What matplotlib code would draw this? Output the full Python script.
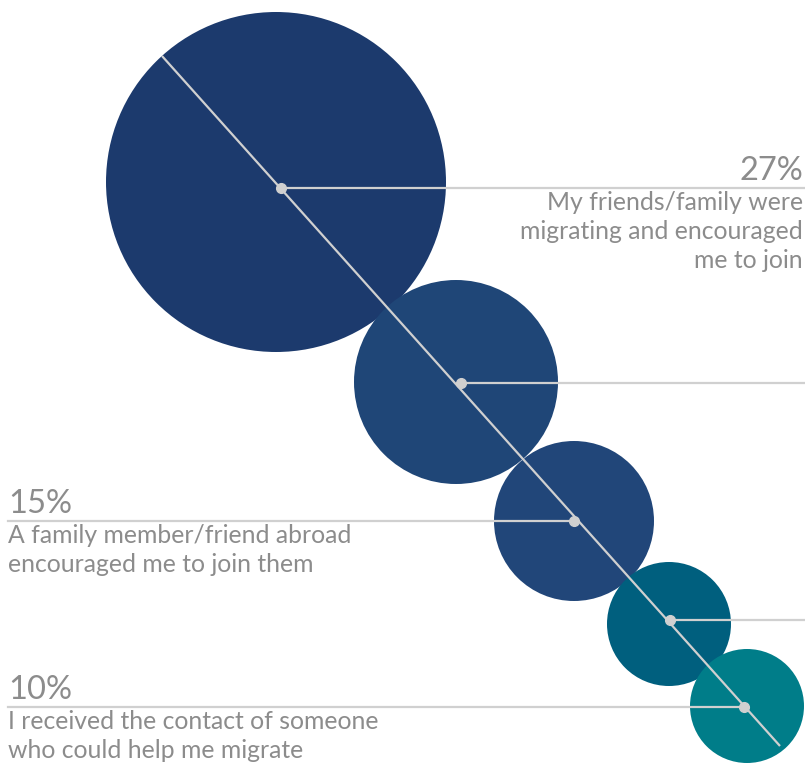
import matplotlib
matplotlib.use('Agg')
import matplotlib.pyplot as plt
from matplotlib.patches import Circle

# --- DATOS ---
porcentajes = ["27%", "", "15%", "", "10%"]
descripciones = [
    ["My friends/family were", "migrating and encouraged", "me to join"],
    [],
    ["A family member/friend abroad", "encouraged me to join them"],
    [],
    ["I received the contact of someone", "who could help me migrate"],
]
radios = [170, 102, 80, 62, 57]
colores = ["#1c3a6d", "#1f4677", "#214679", "#005f7e", "#007d89"]

# --- LAYOUT (pixeles) ---
centros = [(276, 182), (456, 382), (574, 521), (669, 624), (747, 706)]
puntos = [(281, 188), (461, 383), (574, 521), (670, 620), (744, 707)]
lado = ["right", "right", "left", "right", "left"]
ANCHO, ALTO = 805, 765
GRIS_LINEA = "#d0d0d0"
GRIS_TEXTO = "#8c8c8c"
INTERLINEA = 29

plt.rcParams['font.family'] = ['Lato', 'DejaVu Sans']

fig = plt.figure(figsize=(ANCHO / 100, ALTO / 100), dpi=100)
ax = fig.add_axes([0, 0, 1, 1])
ax.set_xlim(0, ANCHO)
ax.set_ylim(ALTO, 0)
ax.set_aspect('equal')
ax.axis('off')

for (cx, cy), r, c in zip(centros, radios, colores):
    ax.add_patch(Circle((cx, cy), r, facecolor=c, edgecolor='none', zorder=1))

# linea diagonal
ax.plot([162, 780], [56, 746], color=GRIS_LINEA, lw=1.6, zorder=2,
        solid_capstyle='butt')

for (px, py), l, pct, desc in zip(puntos, lado, porcentajes, descripciones):
    if l == "right":
        ax.plot([px, ANCHO], [py, py], color=GRIS_LINEA, lw=1.6, zorder=2)
        xt, ha = 803, 'right'
    else:
        ax.plot([8, px], [py, py], color=GRIS_LINEA, lw=1.6, zorder=2)
        xt, ha = 8, 'left'
    ax.plot(px, py, 'o', color=GRIS_LINEA, ms=7, zorder=3)
    if pct:
        ax.text(xt, py - 8, pct, ha=ha, va='baseline', fontsize=23.5,
                color=GRIS_TEXTO)
        for i, linea in enumerate(desc):
            ax.text(xt, py + 22 + i * INTERLINEA, linea, ha=ha, va='baseline',
                    fontsize=17.8, color=GRIS_TEXTO)

fig.savefig('out.png', dpi=100)
